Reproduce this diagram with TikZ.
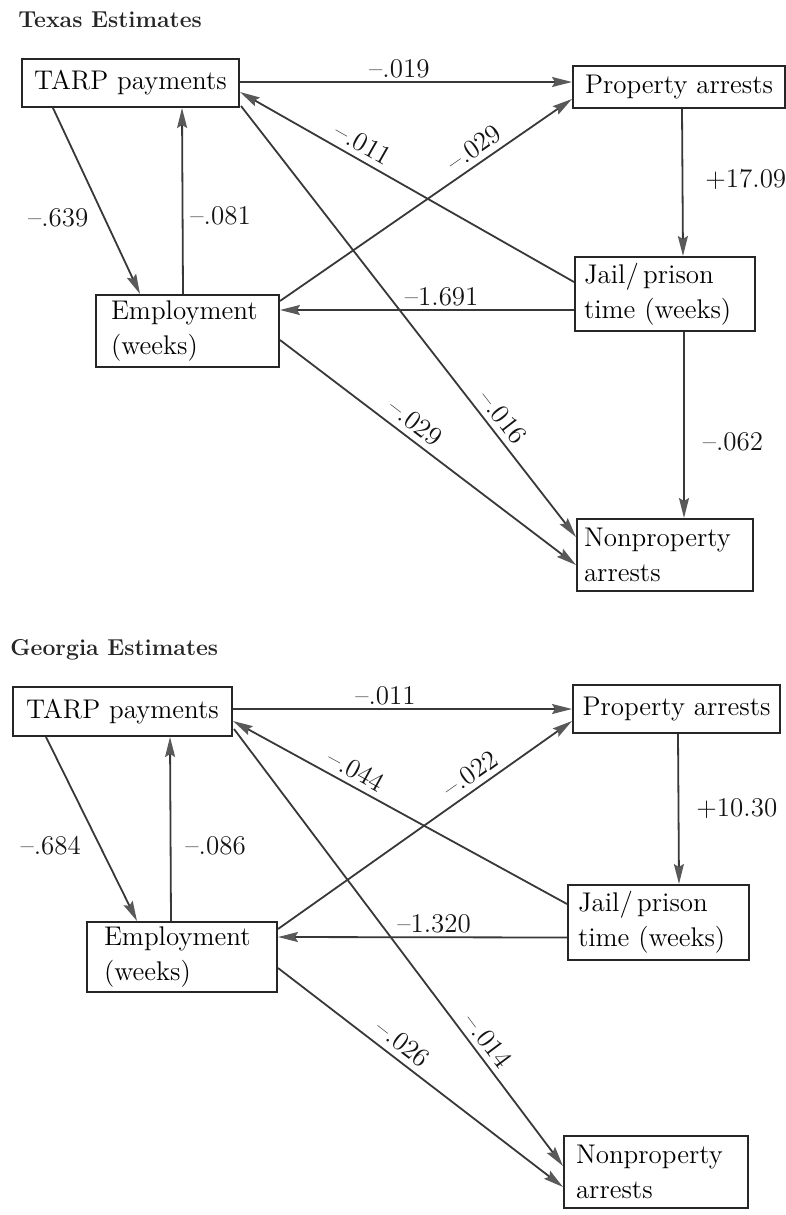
\documentclass[tikz,border=0pt]{standalone}
\usepackage{tikz}
\usetikzlibrary{arrows.meta,calc}

\begin{document}
\begin{tikzpicture}[x=0.5pt,y=0.5pt,yscale=-1,
  box/.style={draw=black!85,line width=1pt,inner ysep=0pt,font=\fontsize{13.5}{17.5}\selectfont},
  lbox/.style={box,align=left},
  link/.style={draw=black!78,line width=0.9pt,-{Stealth[length=10pt,width=5pt,inset=1.5pt,color=black!65]}},
  coef/.style={font=\fontsize{13.5}{16}\selectfont,inner sep=1.5pt,text=black!92},
  heading/.style={font=\fontsize{11.5}{13}\selectfont\bfseries,anchor=west,inner sep=0pt,text=black!85}]
\useasboundingbox (0,0) rectangle (786,1215);

% Text Node
\node[heading] (texasH) at (18,20) {Texas Estimates};
% Text Node
\node[heading] (georgiaH) at (10,650) {Georgia Estimates};

%Boxes: Texas
\node[box,minimum width=108.5pt,minimum height=24pt] (tarpT) at (130.5,83) {TARP payments};
\node[box,minimum width=106pt,minimum height=21pt] (propT) at (679,87) {Property arrests};
\node[lbox,inner xsep=7.5pt,text width=76.5pt,minimum height=36pt] (empT) at (187.5,331) {Employment\\(weeks)};
\node[lbox,inner xsep=4.5pt,text width=81pt,minimum height=37pt] (jailT) at (665,294) {Jail/\,prison\\time (weeks)};
\node[lbox,inner xsep=3.5pt,text width=81pt,minimum height=36pt] (nonT) at (665,555) {Nonproperty\\arrests};

%Boxes: Georgia
\node[box,minimum width=109.5pt,minimum height=24.5pt] (tarpG) at (122.5,711.5) {TARP payments};
\node[box,minimum width=103.5pt,minimum height=24pt] (propG) at (676.5,709) {Property arrests};
\node[lbox,inner xsep=8.5pt,text width=78pt,minimum height=35pt] (empG) at (182,957) {Employment\\(weeks)};
\node[lbox,inner xsep=5pt,text width=80.5pt,minimum height=37.5pt] (jailG) at (658.5,922.5) {Jail/\,prison\\time (weeks)};
\node[lbox,inner xsep=6pt,text width=80pt,minimum height=36pt] (nonG) at (656,1172) {Nonproperty\\arrests};

%Straight Lines: Texas
\draw[link] ($(tarpT.east)+(0,-1)$) -- ($(propT.west)+(0,-5)$)
  node[coef,pos=0.48,above] {--.019};
\draw[link] ($(tarpT.south west)+(32,0)$) -- ($(empT.north west)+(45,0)$)
  node[coef,pos=0.59,left=6pt] {--.639};
\draw[link] ($(empT.north west)+(88,0)$) -- ($(tarpT.south west)+(161,0)$)
  node[coef,pos=0.42,right=2pt] {--.081};
\draw[link] ($(jailT.north west)+(0,26)$) -- ($(tarpT.north east)+(0,34)$)
  node[coef,pos=0.65,above=1.5pt,rotate=-29.6] {--.011};
\draw[link] ($(empT.north east)+(0,7)$) -- ($(propT.south west)+(0,-10)$)
  node[coef,pos=0.69,above=1.5pt,rotate=34.8] {--.029};
\draw[link] ($(jailT.west)+(0,16)$) -- ($(empT.east)+(0,-21)$)
  node[coef,pos=0.45,above] {--1.691};
\draw[link] ($(propT.south west)+(110,0)$) -- ($(jailT.north west)+(109,0)$)
  node[coef,pos=0.48,right=9.5pt] {+17.09};
\draw[link] ($(tarpT.south east)+(1,-2)$) -- ($(nonT.north west)+(0,19)$)
  node[coef,pos=0.75,above=2pt,rotate=-52.2] {--.016};
\draw[link] ($(empT.east)+(0,9)$) -- ($(nonT.north west)+(0,47)$)
  node[coef,pos=0.43,above=2pt,rotate=-37.4] {--.029};
\draw[link] ($(jailT.south west)+(110,0)$) -- ($(nonT.north west)+(108,0)$)
  node[coef,pos=0.59,right=7.5pt] {--.062};

%Straight Lines: Georgia
\draw[link] ($(tarpG.east)+(0,-2.5)$) -- (propG.west)
  node[coef,pos=0.45,above] {--.011};
\draw[link] ($(tarpG.south west)+(34,0)$) -- ($(empG.north west)+(51,0)$)
  node[coef,pos=0.59,left=7.5pt] {--.684};
\draw[link] ($(empG.north west)+(85,0)$) -- ($(tarpG.south west)+(158,0)$)
  node[coef,pos=0.41,right=5.5pt] {--.086};
\draw[link] ($(jailG.north west)+(0,20)$) -- ($(tarpG.north east)+(0,35)$)
  node[coef,pos=0.65,above=1.5pt,rotate=-28.6] {--.044};
\draw[link] ($(empG.north east)+(0,8)$) -- ($(propG.south west)+(0,-13)$)
  node[coef,pos=0.68,above=1.5pt,rotate=35.4] {--.022};
\draw[link] ($(jailG.west)+(0,15)$) -- ($(empG.east)+(0,-20)$)
  node[coef,pos=0.46,above] {--1.320};
\draw[link] ($(propG.south west)+(106,0)$) -- ($(jailG.north west)+(112,0)$)
  node[coef,pos=0.5,right=7pt] {+10.30};
\draw[link] ($(tarpG.south east)+(1,-8)$) -- ($(nonG.north west)+(0,31)$)
  node[coef,pos=0.74,above=2pt,rotate=-53.1] {--.014};
\draw[link] ($(empG.east)+(0,11)$) -- ($(nonG.north west)+(0,52)$)
  node[coef,pos=0.41,above=2pt,rotate=-37.7] {--.026};

\end{tikzpicture}
\end{document}
